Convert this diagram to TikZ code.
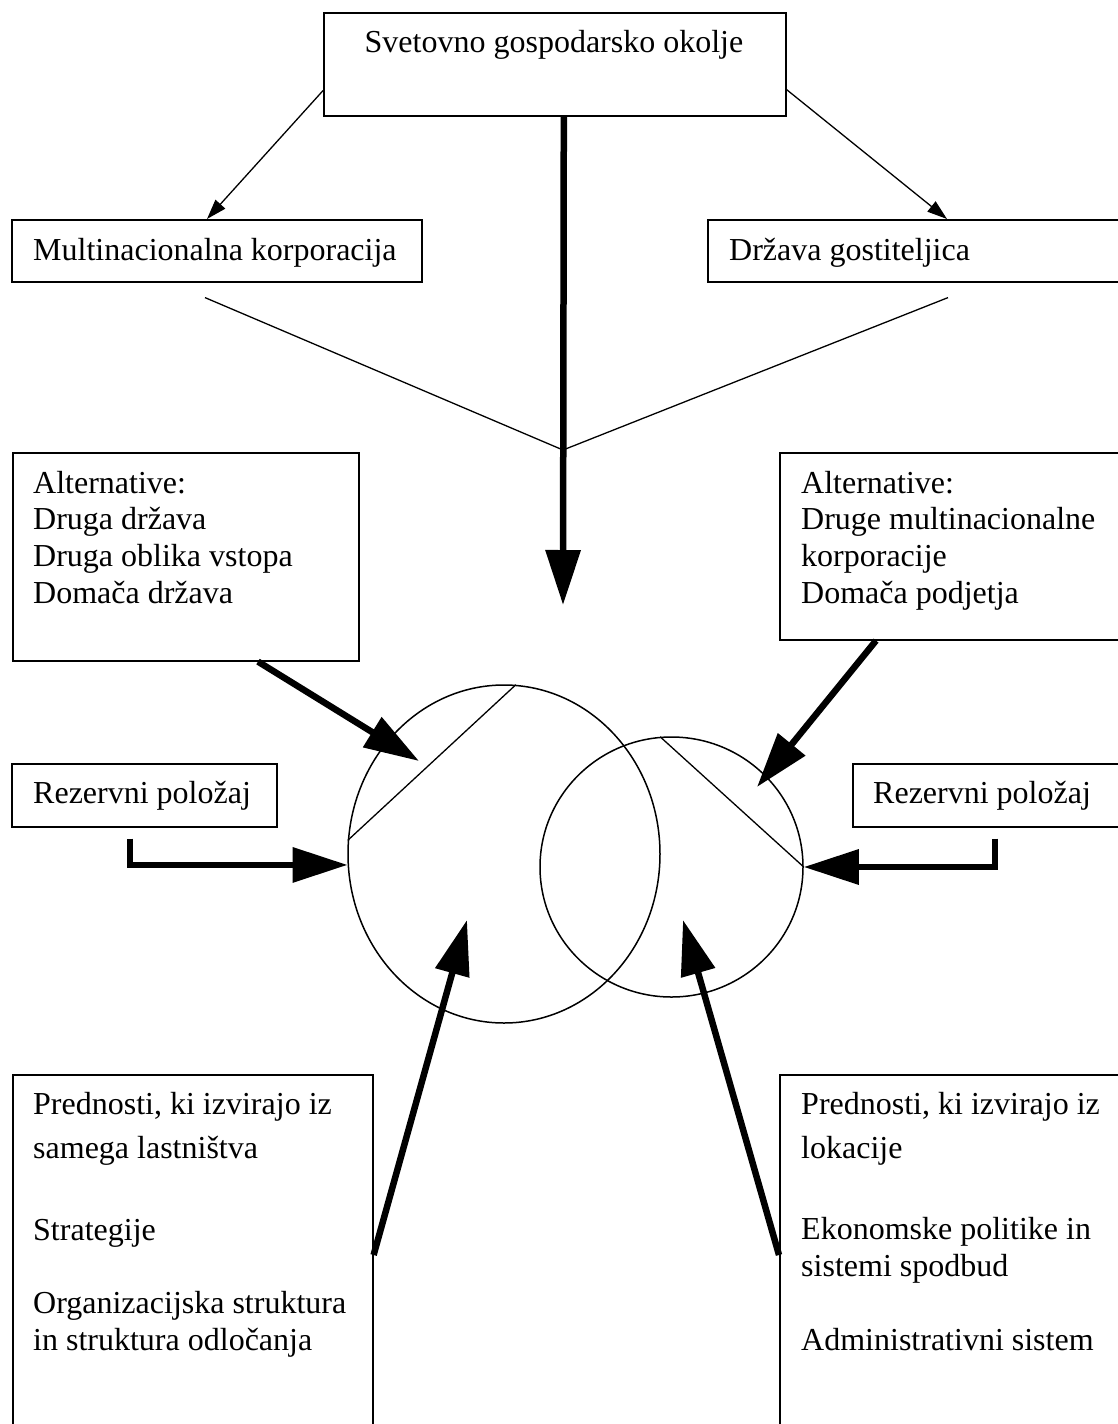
\documentclass[tikz,border=0pt]{standalone}
\usepackage{fontspec}
\setmainfont{Liberation Serif}
\usetikzlibrary{arrows.meta,shapes.geometric,calc}
\begin{document}
\begin{tikzpicture}[x=1pt,y=-1pt,
  box/.style={draw,line width=1.6pt,rectangle,inner sep=0pt,anchor=north west},
  txt/.style={inner sep=0pt,anchor=base west,font=\fontsize{32}{38}\selectfont},
  ring/.style={draw,line width=1.5pt,ellipse,inner sep=0pt},
  thinline/.style={line width=1.3pt},
  thinarrow/.style={line width=1.3pt,-{Triangle[length=20pt,width=13pt]}},
  bigarrow/.style={line width=6.5pt,-{Triangle[length=55pt,width=34pt]}}]
\useasboundingbox (0,0) rectangle (1118,1424);
\clip (0,0) rectangle (1118,1424);
\fill[white] (0,0) rectangle (1118,1424);

% boxes
\node[box,minimum width=462pt,minimum height=103pt] (top) at (323,12) {};
\node[box,minimum width=410pt,minimum height=62pt] (mnc) at (11,219) {};
\node[box,minimum width=430pt,minimum height=62pt] (host) at (707,219) {};
\node[box,minimum width=346pt,minimum height=208pt] (altL) at (12,452) {};
\node[box,minimum width=360pt,minimum height=187pt] (altR) at (779,452) {};
\node[box,minimum width=265pt,minimum height=63pt] (rezL) at (11,763) {};
\node[box,minimum width=290pt,minimum height=63pt] (rezR) at (852,763) {};
\node[box,minimum width=360pt,minimum height=420pt] (advL) at (12,1074) {};
\node[box,minimum width=360pt,minimum height=420pt] (advR) at (779,1074) {};

% texts
\node[txt,anchor=base] (tTop) at (554,52) {Svetovno gospodarsko okolje};
\node[txt] (tMnc) at (33,260) {Multinacionalna korporacija};
\node[txt] (tHost) at (729,260) {Država gostiteljica};

\node[txt] (aL1) at (33,493) {Alternative:};
\node[txt] (aL2) at (33,529.7) {Druga država};
\node[txt] (aL3) at (33,566.4) {Druga oblika vstopa};
\node[txt] (aL4) at (33,603) {Domača država};

\node[txt] (aR1) at (801,493) {Alternative:};
\node[txt] (aR2) at (801,529.7) {Druge multinacionalne};
\node[txt] (aR3) at (801,566.4) {korporacije};
\node[txt] (aR4) at (801,603) {Domača podjetja};

\node[txt] (rL) at (33,803) {Rezervni položaj};
\node[txt] (rR) at (873,803) {Rezervni položaj};

\node[txt] (bL1) at (33,1114) {Prednosti, ki izvirajo iz};
\node[txt] (bL2) at (33,1158) {samega lastništva};
\node[txt] (bL3) at (33,1240) {Strategije};
\node[txt] (bL4) at (33,1313) {Organizacijska struktura};
\node[txt] (bL5) at (33,1350) {in struktura odločanja};

\node[txt] (bR1) at (801,1114) {Prednosti, ki izvirajo iz};
\node[txt] (bR2) at (801,1158) {lokacije};
\node[txt] (bR3) at (801,1239) {Ekonomske politike in};
\node[txt] (bR4) at (801,1276) {sistemi spodbud};
\node[txt] (bR5) at (801,1350) {Administrativni sistem};

% circles
\node[ring,minimum width=312pt,minimum height=338pt] (L) at (504,854) {};
\node[ring,minimum width=263pt,minimum height=260pt] (R) at (671.5,867) {};
\draw[thinline] (L.175.2) -- (L.86);
\draw[thinline] (R.95.5) -- (R.0.9);

% thin arrows from top box
\draw[thinarrow] ([yshift=26pt]top.south west) -- ([xshift=196pt]mnc.north west);
\draw[thinarrow] ([yshift=27pt]top.south east) -- ([xshift=240pt]host.north west);

% V lines
\coordinate (vj) at (563,450);
\draw[thinline] ([xshift=194pt,yshift=-15pt]mnc.south west) -- (vj) -- ([xshift=241pt,yshift=-15pt]host.south west);

% main arrow
\coordinate (mTip) at (563,605);
\draw[bigarrow] ([xshift=9pt]top.south) -- (mTip);

% alternative arrows
\coordinate (aLTip) at (419,761);
\coordinate (aRTip) at (757,787);
\draw[bigarrow] ([xshift=246pt]altL.south west) -- (aLTip);
\draw[bigarrow] ([xshift=97pt]altR.south west) -- (aRTip);

% reserve arrows
\draw[bigarrow] ([xshift=119pt,yshift=-11pt]rezL.south west) |- (L.184.4);
\draw[bigarrow] ([xshift=143pt,yshift=-11pt]rezR.south west) |- (R.0);

% advantage arrows
\coordinate (bLTip) at (467,920);
\coordinate (bRTip) at (683,920);
\draw[bigarrow] ([yshift=-181pt]advL.north east) -- (bLTip);
\draw[bigarrow] ([yshift=-181pt]advR.north west) -- (bRTip);
\end{tikzpicture}
\end{document}
